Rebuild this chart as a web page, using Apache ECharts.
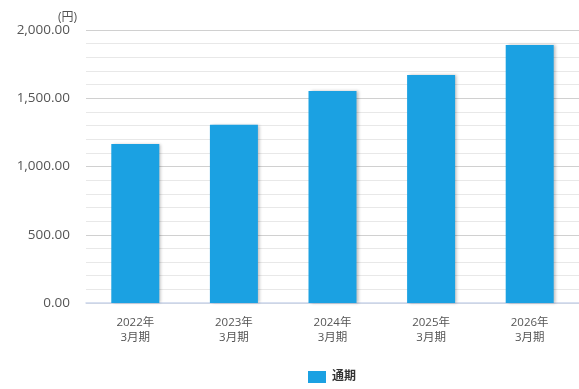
<!DOCTYPE html>
<html><head><meta charset="utf-8">
<script src="https://cdn.jsdelivr.net/npm/echarts@6/dist/echarts.min.js"></script>
<style>html,body{margin:0;padding:0;background:#fff}#c{width:579px;height:389px}</style>
</head><body><div id="c"></div>
<script>
const categories = ['2022年\n3月期','2023年\n3月期','2024年\n3月期','2025年\n3月期','2026年\n3月期'];
const values = [1165, 1305, 1553, 1670, 1890];
const seriesName = '通期';
const unitName = '(円)';
const FONT = "'Open Sans','Noto Sans CJK JP',sans-serif";
const chart = echarts.init(document.getElementById('c'));
chart.setOption({
  animation:false,
  textStyle:{fontFamily:FONT},
  grid:{left:86,right:-3,top:30,bottom:86},
  legend:{top:371,left:308,padding:0,itemWidth:18,itemHeight:12,itemGap:10,icon:'rect',
    textStyle:{fontFamily:FONT,fontSize:12,fontWeight:'bold',color:'#333',padding:[0,0,0,1]},data:[seriesName]},
  xAxis:{type:'category',data:categories,
    axisLine:{lineStyle:{color:'#ccd6eb',width:1.5}},axisTick:{show:false},
    axisLabel:{color:'#555',fontSize:11.5,lineHeight:15,margin:12,fontFamily:FONT}},
  yAxis:{type:'value',min:0,max:2000,interval:500,name:unitName,
    nameLocation:'end',nameGap:6,nameTextStyle:{color:'#555',fontSize:12,align:'right',padding:[0,9,0,0]},
    axisLabel:{color:'#555',fontSize:13.5,margin:16,
      formatter:v=>v.toLocaleString('en-US',{minimumFractionDigits:2,maximumFractionDigits:2})},
    splitLine:{lineStyle:{color:'#d0d0d0'}},
    minorTick:{show:false,splitNumber:5},
    minorSplitLine:{show:true,lineStyle:{color:'#e8e8e8'}}},
  series:[{name:seriesName,type:'bar',data:values,barWidth:48,
    itemStyle:{color:'#1ba1e2',shadowColor:'rgba(0,0,0,0.25)',shadowOffsetX:2,shadowOffsetY:0,shadowBlur:3}}]
});
</script></body></html>
